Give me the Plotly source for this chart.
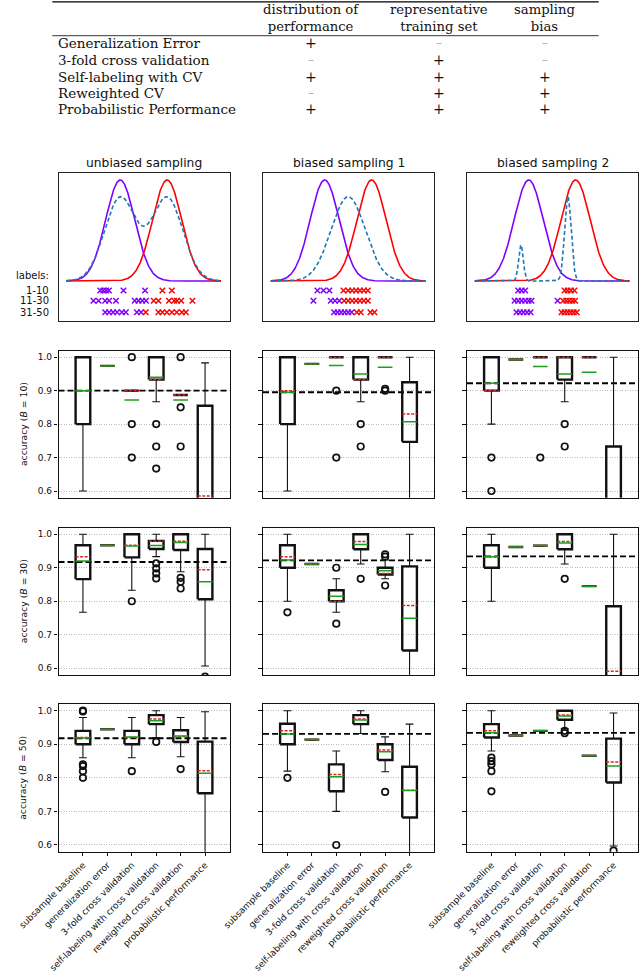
import numpy as np
import plotly.graph_objects as go

# ======================= data =======================
# comparison table
TABLE_HEADERS = ["distribution of<br>performance", "representative<br>training set", "sampling<br>bias"]
TABLE_ROWS = ["Generalization Error", "3-fold cross validation", "Self-labeling with CV",
              "Reweighted CV", "Probabilistic Performance"]
TABLE_MARKS = [["+", "-", "-"],
               ["-", "+", "-"],
               ["+", "+", "+"],
               ["-", "+", "+"],
               ["+", "+", "+"]]

# sampling illustration
SAMPLING_TITLES = ["unbiased sampling", "biased sampling 1", "biased sampling 2"]
CLASS_MEANS = [-1.0, 1.0]
CLASS_SD = 0.62
SAMPLE_MU = [[-1.0, 1.0], [0.0], [-1.33, 0.67]]
SAMPLE_SD = [[0.67, 0.67], [0.73], [0.10, 0.14]]
SAMPLE_AMP = [[0.825, 0.825], [0.835], [0.356, 0.835]]
LABEL_GROUPS = ["1-10", "11-30", "31-50"]
PURPLE_X = [
    [[-1.85, -1.72, -1.60, -1.48, -0.86, 0.06],
     [-2.14, -1.92, -1.64, -1.47, -1.18, -0.38, -0.22, -0.06, 0.10],
     [-1.64, -1.47, -1.30, -1.13, -0.93, -0.76, -0.29, -0.11]],
    [[-1.31, -1.05, -0.80],
     [-1.48, -0.74, -0.56, -0.38],
     [-0.60, -0.45, -0.30, -0.15, 0.00, 0.15]],
    [[-1.45, -1.30, -1.15],
     [-1.60, -1.45, -1.30, -1.15, -1.00, -0.88, 0.23],
     [-1.52, -1.37, -1.22, -1.07, -0.92]],
]
RED_X = [
    [[0.80, 1.20],
     [0.43, 0.63, 1.08, 1.30, 1.42, 1.60, 2.08],
     [0.09, 0.63, 0.80, 0.99, 1.20, 1.41, 1.63, 1.80]],
    [[-0.20, 0.00, 0.17, 0.34, 0.50, 0.67, 0.84],
     [-0.17, 0.00, 0.17, 0.34, 0.50, 0.67, 0.84],
     [0.37, 0.54, 0.95, 1.12]],
    [[0.53, 0.66, 0.80, 0.95],
     [0.47, 0.60, 0.73, 0.86, 0.98],
     [0.40, 0.53, 0.66, 0.79, 0.92, 1.05]],
]

# accuracy boxplots: index [row (B)][column (sampling)][method]
METHODS = ["subsample baseline", "generalization error", "3-fold cross validation",
           "self-labeling with cross validation", "reweighted cross validation",
           "probabilistic performance"]
B_VALUES = [10, 30, 50]
TRUE_ACC = [[0.900, 0.895, 0.922],
            [0.917, 0.922, 0.934],
            [0.918, 0.931, 0.934]]
Q1 = [
    [[0.800, 0.974, 0.900, 0.933, 0.887, 0.450],
     [0.800, 0.980, 1.000, 0.933, 1.000, 0.747],
     [0.900, 0.993, 1.000, 0.933, 1.000, 0.400]],
    [[0.866, 0.967, 0.931, 0.956, 0.953, 0.806],
     [0.900, 0.911, 0.800, 0.955, 0.880, 0.653],
     [0.900, 0.962, 0.966, 0.955, 0.845, 0.400]],
    [[0.900, 0.945, 0.900, 0.960, 0.907, 0.754],
     [0.900, 0.914, 0.760, 0.960, 0.853, 0.682],
     [0.920, 0.926, 0.940, 0.973, 0.866, 0.786]],
]
MEDIAN = [
    [[0.900, 0.974, 0.900, 0.933, 0.887, 0.585],
     [0.900, 0.980, 1.000, 0.933, 1.000, 0.830],
     [0.900, 0.993, 1.000, 1.000, 1.000, 0.500]],
    [[0.933, 0.967, 0.967, 0.979, 0.979, 0.894],
     [0.933, 0.911, 0.800, 0.978, 0.883, 0.787],
     [0.933, 0.962, 0.966, 0.978, 0.845, 0.591]],
    [[0.920, 0.945, 0.920, 0.975, 0.923, 0.821],
     [0.940, 0.914, 0.810, 0.975, 0.883, 0.763],
     [0.940, 0.926, 0.940, 0.987, 0.866, 0.847]],
]
Q3 = [
    [[1.000, 0.974, 0.900, 1.000, 0.887, 0.855],
     [1.000, 0.980, 1.000, 1.000, 1.000, 0.925],
     [1.000, 0.993, 1.000, 1.000, 1.000, 0.733]],
    [[0.967, 0.967, 1.000, 0.980, 1.000, 0.956],
     [0.967, 0.911, 0.833, 1.000, 0.900, 0.904],
     [0.967, 0.962, 0.966, 1.000, 0.845, 0.785]],
    [[0.940, 0.945, 0.940, 0.987, 0.942, 0.908],
     [0.961, 0.914, 0.840, 0.987, 0.900, 0.833],
     [0.960, 0.926, 0.940, 1.000, 0.866, 0.917]],
]
WHISK_LO = [
    [[0.600, 0.974, 0.900, 0.867, 0.887, 0.200],
     [0.600, 0.980, 1.000, 0.867, 1.000, 0.400],
     [0.800, 0.993, 1.000, 0.867, 1.000, 0.200]],
    [[0.767, 0.967, 0.833, 0.933, 0.888, 0.607],
     [0.800, 0.911, 0.767, 0.911, 0.867, 0.400],
     [0.800, 0.962, 0.966, 0.911, 0.845, 0.200]],
    [[0.860, 0.945, 0.860, 0.920, 0.863, 0.400],
     [0.820, 0.914, 0.700, 0.932, 0.818, 0.400],
     [0.880, 0.926, 0.940, 0.947, 0.866, 0.597]],
]
WHISK_HI = [
    [[1.000, 0.974, 0.900, 1.000, 0.887, 0.983],
     [1.000, 0.980, 1.000, 1.000, 1.000, 1.000],
     [1.000, 0.993, 1.000, 1.000, 1.000, 1.000]],
    [[1.000, 0.967, 1.000, 1.000, 1.000, 1.000],
     [1.000, 0.911, 0.867, 1.000, 0.923, 1.000],
     [1.000, 0.962, 0.966, 1.000, 0.845, 1.000]],
    [[0.980, 0.945, 0.980, 1.000, 0.980, 0.997],
     [1.000, 0.914, 0.880, 1.000, 0.922, 0.960],
     [1.000, 0.926, 0.940, 1.000, 0.866, 0.993]],
]
MEAN = [
    [[0.900, 0.974, 0.872, 0.940, 0.872, 0.550],
     [0.895, 0.980, 0.975, 0.950, 0.970, 0.807],
     [0.922, 0.993, 0.972, 0.950, 0.955, 0.550]],
    [[0.920, 0.967, 0.965, 0.966, 0.975, 0.858],
     [0.923, 0.911, 0.815, 0.969, 0.891, 0.749],
     [0.933, 0.962, 0.966, 0.974, 0.845, 0.550]],
    [[0.919, 0.945, 0.922, 0.970, 0.925, 0.814],
     [0.931, 0.914, 0.803, 0.972, 0.878, 0.762],
     [0.934, 0.926, 0.940, 0.984, 0.866, 0.835]],
]
OUTLIERS = [
    [[[], [], [1.0, 0.8, 0.7], [0.8, 0.733, 0.667], [1.0, 0.85, 0.733], []],
     [[], [], [0.9, 0.7], [0.8, 0.733], [0.9, 0.905], []],
     [[0.7, 0.6], [], [0.7], [0.8, 0.733], [], []]],
    [[[], [], [0.8], [0.913, 0.898, 0.883, 0.868], [0.87, 0.858, 0.838], [0.575]],
     [[0.767], [], [0.9, 0.733], [0.867], [0.94, 0.933, 0.847], []],
     [[], [], [], [0.867], [], []]],
    [[[1.0, 0.998, 0.84, 0.835, 0.82, 0.8], [], [0.82], [0.907], [0.826], []],
     [[0.8], [], [0.6], [], [0.758], []],
     [[0.86, 0.85, 0.84, 0.82, 0.76], [], [], [0.94, 0.933], [], [0.583]]],
]

# ======================= layout constants =======================
W, H = 640, 976
COL_PX = [(58.5, 229.5), (263.0, 434.0), (467.0, 638.0)]
DENS_PX = (173.0, 321.0)
ROW_PX = [(350.5, 497.7), (527.5, 675.0), (704.0, 851.7)]
CROSS_LEVELS = [-0.095, -0.195, -0.31]
BOX_W = 0.6
CAP_W = 0.32
PURPLE, RED, DASHBLUE = "#8000ff", "#ff0000", "#1f77b4"
MED_COLOR, MEAN_COLOR = "#d62728", "#1e9e1e"
SANS = "DejaVu Sans"
SERIF = "DejaVu Serif"
TICK_SIZE = 9.0


def fx(px):
    return px / W


def fy(py):
    return 1 - py / H


fig = go.Figure()
layout_axes = {}
annotations = []
shapes = []
axis_counter = [0]


def new_axes(xdom_px, ydom_px, xcfg, ycfg):
    axis_counter[0] += 1
    k = axis_counter[0]
    sfx = "" if k == 1 else str(k)
    xcfg = dict(xcfg, domain=[fx(xdom_px[0]), fx(xdom_px[1])], anchor="y" + sfx, automargin=False,
                fixedrange=True)
    ycfg = dict(ycfg, domain=[fy(ydom_px[1]), fy(ydom_px[0])], anchor="x" + sfx, automargin=False,
                fixedrange=True)
    layout_axes["xaxis" + sfx] = xcfg
    layout_axes["yaxis" + sfx] = ycfg
    return "x" + sfx, "y" + sfx


# ---------------- table ----------------
TAB_LEFT, TAB_RIGHT = 52.3, 598.7
COL_CENTERS = [311.0, 439.0, 545.0]
ROW_Y = [43.3, 60.0, 76.7, 93.0, 109.3]
shapes.append(dict(type="line", xref="paper", yref="paper", x0=fx(TAB_LEFT), x1=fx(TAB_RIGHT),
                   y0=fy(1.8), y1=fy(1.8), line=dict(color="black", width=1.3)))
shapes.append(dict(type="line", xref="paper", yref="paper", x0=fx(TAB_LEFT), x1=fx(TAB_RIGHT),
                   y0=fy(35.7), y1=fy(35.7), line=dict(color="black", width=0.8)))
for j in range(3):
    annotations.append(dict(text=TABLE_HEADERS[j], x=fx(COL_CENTERS[j]), y=fy(18.0),
                            xref="paper", yref="paper", xanchor="center", yanchor="middle",
                            showarrow=False, align="center",
                            font=dict(family=SERIF, size=13.2, color="#111")))
for i, name in enumerate(TABLE_ROWS):
    annotations.append(dict(text=name, x=fx(55.5), y=fy(ROW_Y[i]), xref="paper", yref="paper",
                            xanchor="left", yanchor="middle", showarrow=False,
                            font=dict(family=SERIF, size=13.5, color="#111")))
    for j, m in enumerate(TABLE_MARKS[i]):
        plus = m == "+"
        annotations.append(dict(text="+" if plus else "\u2013", x=fx(COL_CENTERS[j]), y=fy(ROW_Y[i]),
                                xref="paper", yref="paper", xanchor="center", yanchor="middle",
                                showarrow=False,
                                font=dict(family=SERIF, size=14 if plus else 12,
                                          color="#111" if plus else "#b0b0b0")))

# ---------------- sampling illustration ----------------
X_GRID = np.linspace(-3.3, 3.3, 500)
for c in range(3):
    xa, ya = new_axes(COL_PX[c], DENS_PX,
                      dict(range=[-3.63, 3.66], showticklabels=False, ticks="", showgrid=False,
                           zeroline=False, showline=True, mirror=True, linecolor="#222", linewidth=1.1),
                      dict(range=[-0.396, 1.069], showticklabels=False, ticks="", showgrid=False,
                           zeroline=False, showline=True, mirror=True, linecolor="#222", linewidth=1.1))
    for mu, col in zip(CLASS_MEANS, [PURPLE, RED]):
        fig.add_trace(go.Scatter(x=X_GRID, y=np.exp(-(X_GRID - mu) ** 2 / (2 * CLASS_SD ** 2)),
                                 mode="lines", line=dict(color=col, width=1.6),
                                 xaxis=xa, yaxis=ya, showlegend=False, hoverinfo="skip"))
    dens = np.zeros_like(X_GRID)
    for mu, sd, amp in zip(SAMPLE_MU[c], SAMPLE_SD[c], SAMPLE_AMP[c]):
        dens = dens + amp * np.exp(-(X_GRID - mu) ** 2 / (2 * sd ** 2))
    fig.add_trace(go.Scatter(x=X_GRID, y=dens, mode="lines",
                             line=dict(color=DASHBLUE, width=1.6, dash="4px,2.5px"),
                             xaxis=xa, yaxis=ya, showlegend=False, hoverinfo="skip"))
    for r in range(3):
        for xs, col in ((PURPLE_X[c][r], PURPLE), (RED_X[c][r], RED)):
            fig.add_trace(go.Scatter(x=xs, y=[CROSS_LEVELS[r]] * len(xs), mode="markers",
                                     marker=dict(symbol="x-thin", size=5.5, color=col,
                                                 line=dict(color=col, width=1.5)),
                                     xaxis=xa, yaxis=ya, showlegend=False, hoverinfo="skip"))
    annotations.append(dict(text=SAMPLING_TITLES[c], x=fx(sum(COL_PX[c]) / 2), y=fy(163),
                            xref="paper", yref="paper", xanchor="center", yanchor="middle",
                            showarrow=False, font=dict(family=SANS, size=12.3, color="#111")))
    if c == 0:
        annotations.append(dict(text="labels:", x=fx(51), y=0.05, xref="paper", yref=ya,
                                xanchor="right", yanchor="middle", showarrow=False,
                                font=dict(family=SANS, size=10, color="#111")))
        for r, lab in enumerate(LABEL_GROUPS):
            annotations.append(dict(text=lab, x=fx(51), y=CROSS_LEVELS[r], xref="paper", yref=ya,
                                    xanchor="right", yanchor="middle", showarrow=False,
                                    font=dict(family=SANS, size=10, color="#111")))

# ---------------- accuracy boxplots ----------------
POS = list(range(1, len(METHODS) + 1))
for r in range(3):
    for c in range(3):
        bottom = r == 2
        xcfg = dict(range=[0, 7], showgrid=False, zeroline=False, showline=True, mirror=True,
                    linecolor="#111", linewidth=1.2,
                    tickmode="array", tickvals=POS, ticktext=METHODS,
                    ticks="outside" if bottom else "", ticklen=3.5, tickcolor="#111",
                    showticklabels=bottom, tickangle=-45,
                    tickfont=dict(family=SANS, size=TICK_SIZE, color="#111"))
        ycfg = dict(range=[0.58, 1.02], zeroline=False, showline=True, mirror=True,
                    linecolor="#111", linewidth=1.2,
                    tickmode="array", tickvals=[0.6, 0.7, 0.8, 0.9, 1.0],
                    ticktext=["0.6", "0.7", "0.8", "0.9", "1.0"],
                    ticks="outside", ticklen=3.5, tickcolor="#111",
                    showticklabels=(c == 0), tickfont=dict(family=SANS, size=TICK_SIZE, color="#111"),
                    showgrid=True, gridcolor="#bbbbbb", gridwidth=1, griddash="1px,1.5px")
        xa, ya = new_axes(COL_PX[c], ROW_PX[r], xcfg, ycfg)

        q1, med, q3 = Q1[r][c], MEDIAN[r][c], Q3[r][c]
        lo, hi, mn, outs = WHISK_LO[r][c], WHISK_HI[r][c], MEAN[r][c], OUTLIERS[r][c]

        # reference accuracy (dashed black)
        fig.add_trace(go.Scatter(x=[0, 7], y=[TRUE_ACC[r][c]] * 2, mode="lines",
                                 line=dict(color="black", width=1.9, dash="6px,3px"),
                                 xaxis=xa, yaxis=ya, showlegend=False, hoverinfo="skip"))
        wx, wy, cx, cy, bx, by, mdx, mdy, mnx, mny = [], [], [], [], [], [], [], [], [], []
        for i, p in enumerate(POS):
            wx += [p, p, None, p, p, None]
            wy += [q1[i], lo[i], None, q3[i], hi[i], None]
            cx += [p - CAP_W / 2, p + CAP_W / 2, None, p - CAP_W / 2, p + CAP_W / 2, None]
            cy += [lo[i], lo[i], None, hi[i], hi[i], None]
            bx += [p - BOX_W / 2, p + BOX_W / 2, p + BOX_W / 2, p - BOX_W / 2, p - BOX_W / 2, None]
            by += [q1[i], q1[i], q3[i], q3[i], q1[i], None]
            mdx += [p - BOX_W / 2, p + BOX_W / 2, None]
            mdy += [med[i], med[i], None]
            mnx += [p - BOX_W / 2, p + BOX_W / 2, None]
            mny += [mn[i], mn[i], None]
        fig.add_trace(go.Scatter(x=wx, y=wy, mode="lines", line=dict(color="#111", width=1.1),
                                 xaxis=xa, yaxis=ya, showlegend=False, hoverinfo="skip"))
        fig.add_trace(go.Scatter(x=cx, y=cy, mode="lines", line=dict(color="#111", width=1.1),
                                 xaxis=xa, yaxis=ya, showlegend=False, hoverinfo="skip"))
        fig.add_trace(go.Scatter(x=bx, y=by, mode="lines", line=dict(color="#111", width=2.4),
                                 xaxis=xa, yaxis=ya, showlegend=False, hoverinfo="skip"))
        fig.add_trace(go.Scatter(x=mdx, y=mdy, mode="lines",
                                 line=dict(color=MED_COLOR, width=1.5, dash="3px,1.5px"),
                                 xaxis=xa, yaxis=ya, showlegend=False, hoverinfo="skip"))
        fig.add_trace(go.Scatter(x=mnx, y=mny, mode="lines", line=dict(color=MEAN_COLOR, width=1.5),
                                 xaxis=xa, yaxis=ya, showlegend=False, hoverinfo="skip"))
        ox, oy = [], []
        for i, p in enumerate(POS):
            ox += [p] * len(outs[i])
            oy += outs[i]
        fig.add_trace(go.Scatter(x=ox, y=oy, mode="markers",
                                 marker=dict(symbol="circle-open", size=6.5, color="#111",
                                             line=dict(color="#111", width=1.7)),
                                 xaxis=xa, yaxis=ya, showlegend=False, hoverinfo="skip"))
    annotations.append(dict(text="accuracy (<i>B</i> = %d)" % B_VALUES[r], x=fx(23),
                            y=fy(sum(ROW_PX[r]) / 2), xref="paper", yref="paper",
                            xanchor="center", yanchor="middle", textangle=-90, showarrow=False,
                            font=dict(family=SANS, size=9.3, color="#111")))

fig.update_layout(width=W, height=H, margin=dict(l=0, r=0, t=0, b=0, autoexpand=False),
                  paper_bgcolor="white", plot_bgcolor="white",
                  font=dict(family=SANS, color="#111"), hovermode=False, dragmode=False,
                  annotations=annotations, shapes=shapes, showlegend=False, **layout_axes)
# remove the browser's default 8px page margin so the figure sits at the window origin
fig.write_html("out.html", config={"displayModeBar": False},
               post_script="document.body.style.margin='0px';")
